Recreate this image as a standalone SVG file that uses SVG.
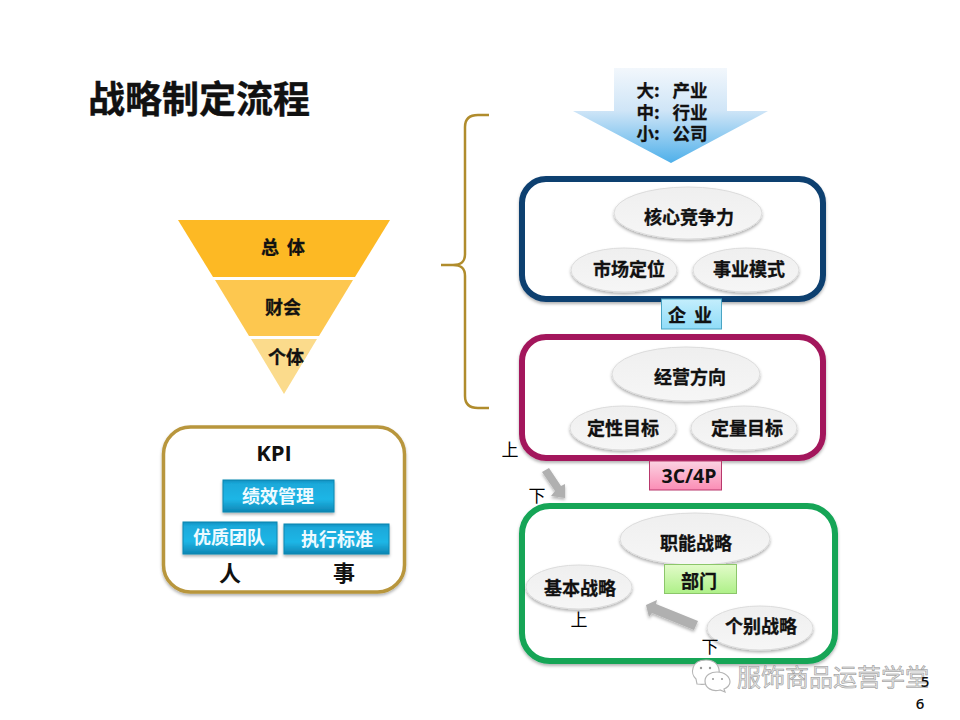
<svg xmlns="http://www.w3.org/2000/svg" width="960" height="720" viewBox="0 0 960 720">
<defs>
<linearGradient id="gArrow" x1="0" y1="0" x2="0" y2="1"><stop offset="0" stop-color="#f2f7fc"/><stop offset="0.45" stop-color="#cfe5f7"/><stop offset="1" stop-color="#4fb0ea"/></linearGradient>
<linearGradient id="gEll" x1="0" y1="0" x2="0" y2="1"><stop offset="0" stop-color="#efefef"/><stop offset="1" stop-color="#f6f6f6"/></linearGradient>
<linearGradient id="gBlue" x1="0" y1="0" x2="0" y2="1"><stop offset="0" stop-color="#c4eefc"/><stop offset="1" stop-color="#8fdcf8"/></linearGradient>
<linearGradient id="gPink" x1="0" y1="0" x2="0" y2="1"><stop offset="0" stop-color="#fbd3e2"/><stop offset="1" stop-color="#fb8db5"/></linearGradient>
<linearGradient id="gGreen" x1="0" y1="0" x2="0" y2="1"><stop offset="0" stop-color="#e2fbc9"/><stop offset="1" stop-color="#aef088"/></linearGradient>
<linearGradient id="gCyan" x1="0" y1="0" x2="0" y2="1"><stop offset="0" stop-color="#0f8fc0"/><stop offset="0.12" stop-color="#1aa9da"/><stop offset="0.6" stop-color="#1fb6e6"/><stop offset="1" stop-color="#0d86b4"/></linearGradient>
<filter id="sh" x="-10%" y="-10%" width="120%" height="125%"><feDropShadow dx="0" dy="2" stdDeviation="1.5" flood-color="#000" flood-opacity="0.3"/></filter>
</defs>
<style>
text{font-family:"Noto Sans CJK SC","Liberation Sans",sans-serif;font-weight:700;text-anchor:middle;fill:#111}
.t{font-size:18px;stroke:#111;stroke-width:0.3}
.s{font-size:17.5px}
.lat{font-family:"Open Sans","Noto Sans",sans-serif}
.w{fill:#eefaff;font-size:18px}
.thin{font-weight:400;font-size:17px;fill:#000;font-family:"Noto Sans CJK SC",serif}
.frame{fill:#fff;stroke-width:6;filter:url(#sh)}
.el{fill:url(#gEll);stroke:#dcdcdc;stroke-width:1;filter:url(#sh)}
.cyan{fill:url(#gCyan);stroke:#0d86b0;stroke-width:1;filter:url(#sh)}
.ga{fill:#b0b0b0;filter:url(#sh)}
</style>
<rect width="960" height="720" fill="#fff"/>
<g id="title"><text x="199" y="113" style="font-size:37px;stroke:#111;stroke-width:0.4">战略制定流程</text></g>

<g id="pyramid">
<polygon points="178,220 390,220 355,277 213,277" fill="#fdb924"/>
<polygon points="215,280 353,280 319,336 249,336" fill="#fdc74f"/>
<polygon points="251,339 317,339 284,394" fill="#fbdb8c"/>
<text x="283" y="254" class="t" xml:space="preserve">总  体</text>
<text x="283" y="314" class="t">财会</text>
<text x="286" y="364" class="t">个体</text>
</g>

<g id="kpi">
<rect x="163.500" y="427" width="241" height="165" rx="27" fill="#fff" stroke="#b8963c" stroke-width="3.500" filter="url(#sh)"/>
<text x="274" y="461" class="lat" style="font-size:22px">KPI</text>
<rect x="223" y="480" width="111" height="32" class="cyan"/>
<text x="278" y="503" class="w">绩效管理</text>
<rect x="183" y="522" width="94" height="32" class="cyan"/>
<text x="229" y="544" class="w">优质团队</text>
<rect x="284" y="524" width="105" height="30" class="cyan"/>
<text x="337" y="546" class="w">执行标准</text>
<text x="230" y="581" style="font-size:22px">人</text>
<text x="344" y="581" style="font-size:22px">事</text>
</g>

<g id="source">
<polygon points="614,68 727,68 727,111 768,111 671,163 573,111 614,111" fill="url(#gArrow)"/>
<text x="648" y="97" class="t s">大:</text><text x="690" y="97" class="t s">产业</text>
<text x="648" y="119" class="t s">中:</text><text x="690" y="119" class="t s">行业</text>
<text x="648" y="140" class="t s">小:</text><text x="690" y="140" class="t s">公司</text>
</g>

<g id="enterprise">
<rect x="522" y="179" width="301" height="120" rx="24" class="frame" stroke="#0e3f70"/>
<ellipse cx="688" cy="213" rx="74" ry="26" class="el"/>
<text x="689" y="224" class="t">核心竞争力</text>
<ellipse cx="624" cy="270" rx="53" ry="22" class="el"/>
<text x="629" y="276" class="t">市场定位</text>
<ellipse cx="746" cy="270" rx="53" ry="22" class="el"/>
<text x="749" y="276" class="t">事业模式</text>
<rect x="661.500" y="299" width="60" height="30" fill="url(#gBlue)" stroke="#4aa5c4" stroke-width="1"/>
<text x="690" y="322" class="t" xml:space="preserve">企  业</text>
</g>

<g id="business">
<rect x="522" y="337" width="301" height="121" rx="24" class="frame" stroke="#a3195b"/>
<ellipse cx="686" cy="374" rx="74" ry="27" class="el"/>
<text x="690" y="384" class="t">经营方向</text>
<ellipse cx="623" cy="428" rx="53" ry="22" class="el"/>
<text x="623" y="435" class="t">定性目标</text>
<ellipse cx="744" cy="428" rx="53" ry="22" class="el"/>
<text x="747" y="435" class="t">定量目标</text>
<rect x="649.500" y="461" width="72" height="29" fill="url(#gPink)" stroke="#b8386c" stroke-width="1"/>
<text x="689" y="483" class="lat" style="font-size:19.500px">3C/4P</text>
</g>

<g id="functional">
<rect x="522" y="506" width="313" height="155" rx="28" class="frame" stroke="#12a557"/>
<ellipse cx="695" cy="539" rx="75" ry="26" class="el"/>
<text x="696" y="550" class="t">职能战略</text>
<ellipse cx="579" cy="587" rx="53" ry="22" class="el"/>
<text x="580" y="595" class="t">基本战略</text>
<ellipse cx="760" cy="628" rx="53" ry="22" class="el"/>
<text x="761" y="633" class="t">个别战略</text>
<rect x="664.500" y="564.500" width="72" height="29" fill="url(#gGreen)" stroke="#8cc66a" stroke-width="1"/>
<text x="699" y="588" class="t">部门</text>
</g>

<g id="connectors">
<path d="M489,115 L478,115 C470,115 465,119 465,127 L465,254 C465,262 461,265 453,265 L441,265 M453,265 C461,265 465,268 465,276 L465,396 C465,404 470,408 478,408 L489,408" fill="none" stroke="#b08c2c" stroke-width="2.500"/>
<polygon points="542,472 549,468 561,486 565,484 565,498 551,496 555,491" class="ga"/>
<polygon points="698,621 694,630 652,613 649,617 646,605 657,600 656,604" class="ga"/>
</g>

<g id="labels">
<text x="510" y="456" class="thin">上</text>
<text x="537" y="502" class="thin">下</text>
<text x="579" y="626" class="thin">上</text>
<text x="710" y="653" class="thin">下</text>
</g>

<g id="watermark">
<path d="M697,684 L696,679 C690,674 691,660 706,660 C717,660 720,668 719,674 C712,672 705,676 706,684 C703,685 700,684 697,684Z" fill="#fff" stroke="#b5b5b5" stroke-width="1.200"/>
<path d="M724,689 L725,692 L720,690 C712,692 705,688 705,681 C705,675 711,672 717,672 C725,672 730,677 730,682 C730,685 727,688 724,689Z" fill="#fff" stroke="#b5b5b5" stroke-width="1.200"/>
<g fill="#999"><circle cx="701" cy="668" r="1.200"/><circle cx="710" cy="668" r="1.200"/><circle cx="713" cy="679" r="1"/><circle cx="722" cy="679" r="1"/></g>
<text x="833" y="686" style="font-size:24px;font-weight:400;fill:#e4e4e4;stroke:#8f8f8f;stroke-width:0.500">服饰商品运营学堂</text>
<text x="925" y="687" class="lat" style="font-size:15px;font-weight:600">5</text>
<text x="920" y="709" class="lat" style="font-size:15px;font-weight:600">6</text>
</g>
</svg>
